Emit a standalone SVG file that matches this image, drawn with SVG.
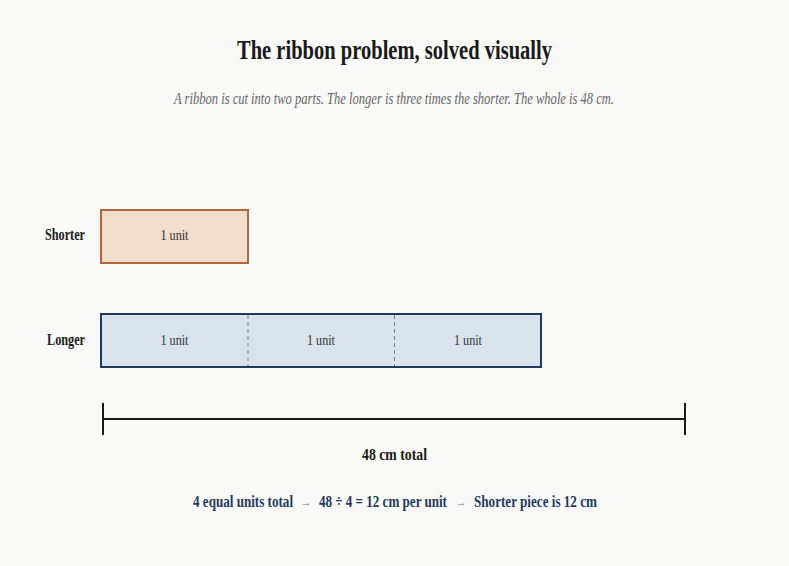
<svg xmlns="http://www.w3.org/2000/svg" width="789" height="566" viewBox="0 0 789 566">
<style>
text{font-family:"Liberation Serif","Times New Roman",serif;}
.title{font-size:27px;font-weight:bold;fill:#1a1a1a;}
.sub{font-size:16px;font-style:italic;fill:#666;}
.lbl{font-size:16px;font-weight:bold;fill:#1a1a1a;}
.unit{font-size:15px;fill:#333;}
.tot{font-size:17px;font-weight:bold;fill:#1a1a1a;}
.eq{font-size:17px;font-weight:bold;fill:#1f3a5f;}
.arr{font-size:11px;fill:#777;}
.short{fill:#f2dccb;stroke:#b3663d;stroke-width:2;}
.long{fill:#dae2ec;stroke:#1f3a5f;stroke-width:2;}
.div{stroke:#6b7f99;stroke-width:1;stroke-dasharray:4,3;}
.dim{stroke:#1a1a1a;stroke-width:2;fill:none;}
</style>
<rect width="789" height="566" fill="#f9f9f7"/>
<g id="title">
<text class="title" x="394.5" y="59" text-anchor="middle" textLength="315" lengthAdjust="spacingAndGlyphs">The ribbon problem, solved visually</text>
<text class="sub" x="394" y="104" text-anchor="middle" textLength="440" lengthAdjust="spacingAndGlyphs">A ribbon is cut into two parts. The longer is three times the shorter. The whole is 48 cm.</text>
</g>
<g id="shorter">
<text class="lbl" x="85" y="240" text-anchor="end" textLength="40" lengthAdjust="spacingAndGlyphs">Shorter</text>
<rect class="short" x="101" y="210" width="147" height="53"/>
<text class="unit" x="174.5" y="240" text-anchor="middle" textLength="28" lengthAdjust="spacingAndGlyphs">1 unit</text>
</g>
<g id="longer">
<text class="lbl" x="85" y="345" text-anchor="end" textLength="38" lengthAdjust="spacingAndGlyphs">Longer</text>
<rect class="long" x="101" y="314" width="440" height="53"/>
<line class="div" x1="248" y1="315" x2="248" y2="366"/>
<line class="div" x1="394.5" y1="315" x2="394.5" y2="366"/>
<text class="unit" x="174.5" y="345" text-anchor="middle" textLength="28" lengthAdjust="spacingAndGlyphs">1 unit</text>
<text class="unit" x="321" y="345" text-anchor="middle" textLength="28" lengthAdjust="spacingAndGlyphs">1 unit</text>
<text class="unit" x="468" y="345" text-anchor="middle" textLength="28" lengthAdjust="spacingAndGlyphs">1 unit</text>
</g>
<g id="connectors">
<line class="dim" x1="103" y1="419" x2="685" y2="419"/>
<line class="dim" x1="103" y1="403" x2="103" y2="435"/>
<line class="dim" x1="685" y1="403" x2="685" y2="435"/>
</g>
<g id="total">
<text class="tot" x="394.5" y="460" text-anchor="middle" textLength="65" lengthAdjust="spacingAndGlyphs">48 cm total</text>
</g>
<g id="equation">
<text class="eq" transform="translate(193,507) scale(0.77,1)" x="0" y="0" textLength="129.9" lengthAdjust="spacingAndGlyphs">4 equal units total</text>
<text class="arr" x="306" y="506" text-anchor="middle">→</text>
<text class="eq" transform="translate(319,507) scale(0.77,1)" x="0" y="0" textLength="166.2" lengthAdjust="spacingAndGlyphs">48 ÷ 4 = 12 cm per unit</text>
<text class="arr" x="461" y="506" text-anchor="middle">→</text>
<text class="eq" transform="translate(474,507) scale(0.77,1)" x="0" y="0" textLength="159.7" lengthAdjust="spacingAndGlyphs">Shorter piece is 12 cm</text>
</g>
</svg>
